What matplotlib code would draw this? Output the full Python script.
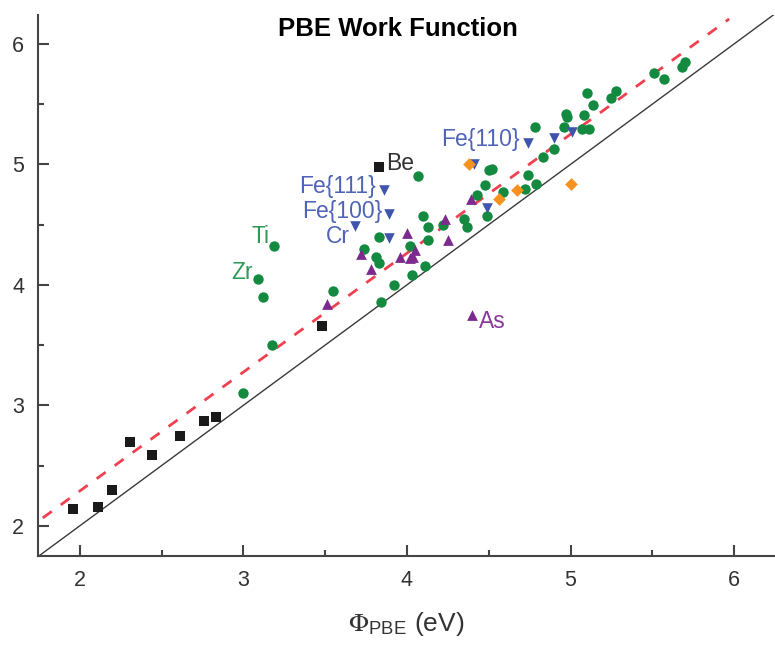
import matplotlib
matplotlib.use("Agg")
import matplotlib.pyplot as plt
import numpy as np
from matplotlib.ticker import MultipleLocator

plt.rcParams['font.family'] = ['Liberation Sans', 'DejaVu Sans']
plt.rcParams['mathtext.fontset'] = 'stix'

# ---- data ----
black_x = [1.96, 2.11, 2.20, 2.31, 2.44, 2.61, 2.76, 2.83, 3.48, 3.83]
black_y = [2.14, 2.16, 2.30, 2.70, 2.59, 2.75, 2.87, 2.90, 3.66, 4.98]

green_x = [3.00, 3.175, 3.185, 3.09, 3.12, 3.55, 3.74, 4.07, 3.81, 3.83, 3.83, 3.84,
           3.92, 4.03, 4.11, 4.02, 4.10, 4.13, 4.13, 4.22, 4.35, 4.37, 4.43, 4.48,
           4.50, 4.52, 4.49, 4.78, 4.59, 4.72, 4.74, 4.79, 4.83, 4.90, 4.97, 4.98,
           4.96, 5.08, 5.07, 5.11, 5.14, 5.10, 5.25, 5.28, 5.51, 5.57, 5.68, 5.70]
green_y = [3.10, 3.50, 4.32, 4.05, 3.90, 3.95, 4.30, 4.90, 4.23, 4.18, 4.40, 3.86,
           4.00, 4.08, 4.16, 4.32, 4.57, 4.48, 4.37, 4.50, 4.55, 4.48, 4.75, 4.83,
           4.95, 4.96, 4.57, 5.31, 4.77, 4.80, 4.91, 4.84, 5.06, 5.13, 5.42, 5.39,
           5.31, 5.41, 5.29, 5.29, 5.49, 5.59, 5.55, 5.61, 5.76, 5.71, 5.81, 5.85]

blue_x = [3.86, 3.89, 3.68, 3.89, 4.49, 4.74, 4.90, 5.01, 4.41]
blue_y = [4.79, 4.59, 4.49, 4.39, 4.64, 5.18, 5.22, 5.27, 5.00]

purple_x = [3.51, 3.72, 3.78, 4.00, 3.96, 4.02, 4.05, 4.04, 4.23, 4.25, 4.39, 4.40]
purple_y = [3.84, 4.26, 4.13, 4.43, 4.23, 4.22, 4.29, 4.23, 4.55, 4.37, 4.71, 3.75]

orange_x = [4.38, 4.56, 4.67, 5.00]
orange_y = [5.00, 4.71, 4.79, 4.84]

fit_slope = 0.987
fit_intercept = 0.315

labels = [
    ("Be",      3.87, 5.01, 'left',  '#333333'),
    ("Fe{111}", 3.81, 4.82, 'right', '#4f63b8'),
    ("Fe{100}", 3.85, 4.61, 'right', '#4f63b8'),
    ("Cr",      3.65, 4.40, 'right', '#4f63b8'),
    ("Fe{110}", 4.69, 5.21, 'right', '#4f63b8'),
    ("Ti",      3.16, 4.40, 'right', '#2e9a58'),
    ("Zr",      3.06, 4.10, 'right', '#2e9a58'),
    ("As",      4.44, 3.70, 'left',  '#8b3a9b'),
]

# ---- figure ----
fig = plt.figure(figsize=(7.75, 6.47), dpi=100)
ax = fig.add_axes([38/775, 1-556/647, 1-38/775, (556-15)/647])

ax.set_xlim(1.745, 6.25)
ax.set_ylim(1.75, 6.24)

# y = x line
xx = np.array([1.745, 6.3])
ax.plot(xx, xx, color='#3a3a3a', lw=1.0, zorder=2)
# fitted dashed line
xf = np.array([1.774, 5.97])
ax.plot(xf, fit_slope*xf + fit_intercept, color='#f0404f', lw=2.0,
        ls=(0, (4, 4)), zorder=2)

ax.scatter(black_x, black_y, marker='s', s=46, color='#1a1a1a', lw=0, zorder=3)
ax.scatter(green_x, green_y, marker='o', s=56, color='#138a40', lw=0, zorder=3)
ax.scatter(purple_x, purple_y, marker='^', s=60, color='#7d2a8e', lw=0, zorder=4)
ax.scatter(blue_x, blue_y, marker='v', s=58, color='#3f55ad', lw=0, zorder=4)
ax.scatter(orange_x, orange_y, marker='D', s=42, color='#f7921e', lw=0, zorder=5)

for txt, x, y, ha, c in labels:
    ax.text(x, y, txt, ha=ha, va='center', fontsize=16.5, color=c, zorder=6)

ax.text(0.488, 0.974, "PBE Work Function", transform=ax.transAxes,
        ha='center', va='center', fontsize=18.5, fontweight='bold', color='black')

for s in ['top', 'right']:
    ax.spines[s].set_visible(False)
for s in ['left', 'bottom']:
    ax.spines[s].set_linewidth(1.5)
    ax.spines[s].set_color('#444444')

ax.xaxis.set_major_locator(MultipleLocator(1))
ax.xaxis.set_minor_locator(MultipleLocator(0.5))
ax.yaxis.set_major_locator(MultipleLocator(1))
ax.yaxis.set_minor_locator(MultipleLocator(0.5))
ax.tick_params(which='major', direction='in', length=8, width=1.5,
               color='#444444', labelsize=15.5, labelcolor='#333333', pad=10)
ax.tick_params(which='minor', direction='in', length=4.5, width=1.5,
               color='#444444')

ax.set_xlabel(r'$\Phi_{\mathregular{PBE}}$ (eV)', fontsize=19,
              color='#333333', labelpad=14)

fig.savefig('out.png', dpi=100)
